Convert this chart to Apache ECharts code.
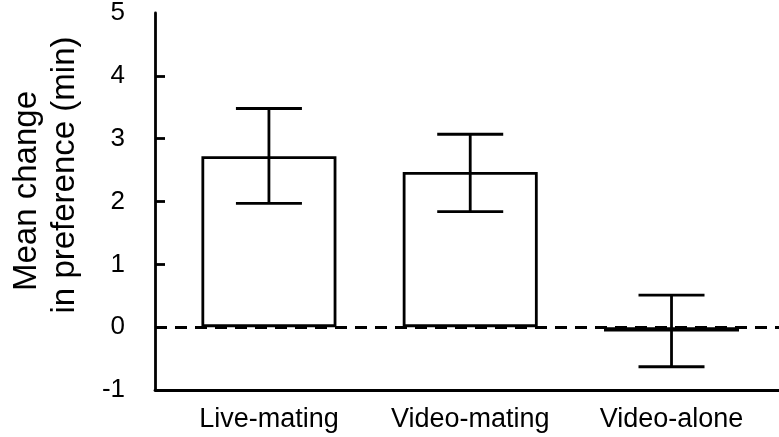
<!DOCTYPE html>
<html>
<head>
<meta charset="utf-8">
<script src="https://cdn.jsdelivr.net/npm/echarts@6/dist/echarts.min.js"></script>
<style>
html,body{margin:0;padding:0;background:#fff;}
#chart{width:779px;height:437px;}
</style>
</head>
<body>
<div id="chart"></div>
<script>
const categories = ['Live-mating', 'Video-mating', 'Video-alone'];
const meanValues = [2.72, 2.47, -0.07];
const errLow = [1.97, 1.84, -0.63];
const errHigh = [3.48, 3.07, 0.51];
const yTicks = [-1, 0, 1, 2, 3, 4, 5];
const titleLines = ['Mean change', 'in preference (min)'];

const FONT = "'Liberation Sans', Arial, Helvetica, sans-serif";
const chart = echarts.init(document.getElementById('chart'));

const barData = categories.map((c, i) => [i, meanValues[i]]);
const errData = categories.map((c, i) => [i, errLow[i], errHigh[i]]);

chart.setOption({
  animation: false,
  grid: { left: 152, right: 0, top: 12, bottom: 47 },
  xAxis: {
    type: 'value',
    min: -0.566,
    max: 2.534,
    axisLine: { show: true, onZero: false, lineStyle: { color: '#000', width: 2.8 } },
    axisTick: { show: false },
    splitLine: { show: false },
    axisLabel: {
      customValues: [0, 1, 2],
      formatter: v => categories[Math.round(v)],
      color: '#000', fontFamily: FONT, fontSize: 27, margin: 16
    }
  },
  yAxis: {
    type: 'value',
    min: -1, max: 5, interval: 1,
    name: '{a|' + titleLines[0] + '}\n{b|' + titleLines[1] + '}',
    nameLocation: 'middle',
    nameRotate: 90,
    nameGap: 71,
    nameTextStyle: {
      color: '#000', fontFamily: FONT, fontSize: 33, lineHeight: 38,
      padding: [0, 0, 0, 37],
      rich: {
        a: { color: '#000', fontFamily: FONT, fontSize: 33, lineHeight: 38, padding: [0, 16, 0, 0] },
        b: { color: '#000', fontFamily: FONT, fontSize: 33, lineHeight: 38, padding: [0, 0, 0, 16] }
      }
    },
    axisLine: { show: true, onZero: false, lineStyle: { color: '#000', width: 2.8 } },
    axisTick: { show: true, inside: true, length: 10, customValues: [0, 1, 2, 3, 4], lineStyle: { color: '#000', width: 2.8 } },
    splitLine: { show: false },
    axisLabel: {
      customValues: yTicks,
      color: '#000', fontFamily: FONT, fontSize: 26, margin: 30
    }
  },
  series: [
    {
      type: 'bar',
      data: barData,
      barWidth: 135,
      itemStyle: { color: '#fff', borderColor: '#000', borderWidth: 2.8 },
      markLine: {
        silent: true,
        symbol: 'none',
        label: { show: false },
        lineStyle: { color: '#000', width: 2.8, type: [12, 8] },
        data: [{ yAxis: 0 }]
      },
      z: 2
    },
    {
      type: 'custom',
      data: errData,
      z: 5,
      renderItem: function (params, api) {
        const x = api.value(0);
        const lo = api.coord([x, api.value(1)]);
        const hi = api.coord([x, api.value(2)]);
        const half = 33;
        const style = { stroke: '#000', lineWidth: 2.8, fill: null };
        return {
          type: 'group',
          children: [
            { type: 'line', shape: { x1: hi[0], y1: hi[1], x2: lo[0], y2: lo[1] }, style: style },
            { type: 'line', shape: { x1: hi[0] - half, y1: hi[1], x2: hi[0] + half, y2: hi[1] }, style: style },
            { type: 'line', shape: { x1: lo[0] - half, y1: lo[1], x2: lo[0] + half, y2: lo[1] }, style: style }
          ]
        };
      }
    }
  ]
});
</script>
</body>
</html>
